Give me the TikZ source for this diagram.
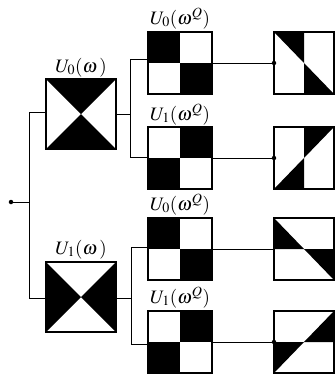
\documentclass[tikz,border=0pt]{standalone}
\usepackage{mathptmx}
\usetikzlibrary{backgrounds}
\begin{document}
\begin{tikzpicture}[x=1pt,y=-1pt,
  bx/.style={draw, line width=1.6pt, inner sep=0pt, outer sep=0pt},
  big/.style={bx, minimum width=70pt, minimum height=70pt},
  mid/.style={bx, minimum width=64pt, minimum height=62pt},
  sml/.style={bx, minimum width=60pt, minimum height=62pt},
  wire/.style={line width=0.8pt},
  dotn/.style={circle, fill, inner sep=0pt, minimum size=4.5pt},
  lab/.style={anchor=base, inner sep=0pt, font=\fontsize{19}{22}\selectfont}]
\useasboundingbox (0,0) rectangle (335,376);
% first column
\node[big] (A) at (81,114) {};
\node[big] (B) at (81,297) {};
% second column
\node[mid] (P) at (180,63) {};
\node[mid] (Q) at (180,158) {};
\node[mid] (R) at (180,249) {};
\node[mid] (S) at (180,342) {};
% third column
\node[sml] (T1) at (304,63) {};
\node[sml] (T2) at (304,158) {};
\node[sml] (T3) at (304,249) {};
\node[sml] (T4) at (304,342) {};
% fills
\begin{scope}[on background layer]
\fill (A.north west) -- (A.north east) -- (A.center) -- cycle;
\fill (A.south west) -- (A.south east) -- (A.center) -- cycle;
\fill (B.north west) -- (B.south west) -- (B.center) -- cycle;
\fill (B.north east) -- (B.south east) -- (B.center) -- cycle;
\foreach \n in {P,R}{
  \fill (\n.north west) rectangle (\n.center);
  \fill (\n.center) rectangle (\n.south east);}
\foreach \n in {Q,S}{
  \fill (\n.north) rectangle (\n.east);
  \fill (\n.west) rectangle (\n.south);}
\fill (T1.north west) -- (T1.north) -- (T1.center) -- cycle;
\fill (T1.center) -- (T1.south) -- (T1.south east) -- cycle;
\fill (T2.south west) -- (T2.south) -- (T2.center) -- cycle;
\fill (T2.center) -- (T2.north) -- (T2.north east) -- cycle;
\fill (T3.north west) -- (T3.west) -- (T3.center) -- cycle;
\fill (T3.center) -- (T3.east) -- (T3.south east) -- cycle;
\fill (T4.south west) -- (T4.west) -- (T4.center) -- cycle;
\fill (T4.center) -- (T4.east) -- (T4.north east) -- cycle;
\end{scope}
% labels
\node[lab] (lA) at (81,72) {$U_0(\omega\mkern2mu)$};
\node[lab] (lB) at (81,254) {$U_1(\omega\mkern2mu)$};
\node[lab] (lP) at (180,24) {$U_0(\omega^Q)$};
\node[lab] (lQ) at (180,120) {$U_1(\omega^Q)$};
\node[lab] (lR) at (180,210) {$U_0(\omega^Q)$};
\node[lab] (lS) at (180,303) {$U_1(\omega^Q)$};
% wires
\node[dotn] (d) at (11,202) {};
\draw[wire] (d.center) -- (29,202) coordinate (jl);
\draw[wire] (jl) |- ([yshift=2pt]A.west);
\draw[wire] (jl) |- ([yshift=-1pt]B.west);
\draw[wire] (A.east) -- ++(14,0) coordinate (ja);
\draw[wire] (ja) |- ([yshift=4pt]P.west);
\draw[wire] (ja) |- ([yshift=1pt]Q.west);
\draw[wire] ([yshift=-1pt]B.east) -- ++(15,0) coordinate (jb);
\draw[wire] (jb) |- ([yshift=2pt]R.west);
\draw[wire] (jb) |- ([yshift=-2pt]S.west);
\draw[wire] (P.east) -- (T1.west);
\draw[wire] (Q.east) -- (T2.west);
\draw[wire] (R.east) -- (T3.west);
\draw[wire] (S.east) -- (T4.west);
\node[dotn] (e1) at (T1.west) {};
\node[dotn] (e2) at (T2.west) {};
\node[dotn] (e4) at (T4.west) {};
\end{tikzpicture}
\end{document}
